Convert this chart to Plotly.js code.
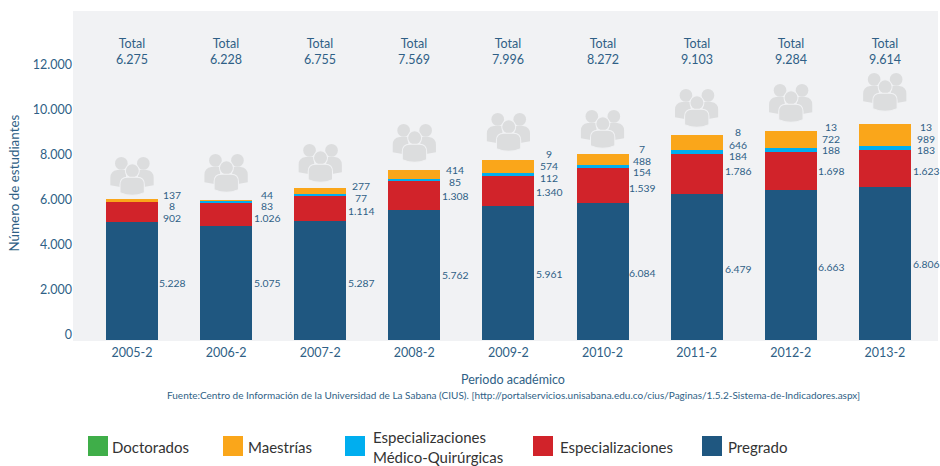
<!DOCTYPE html>
<html><head><meta charset="utf-8">
<script src="https://cdn.plot.ly/plotly-3.0.1.min.js"></script>
<style>html,body{margin:0;padding:0;background:#fff}#c{width:940px;height:466px}</style>
</head><body><div id="c"></div>
<script>
// ---- data ----
const periods = ['2005-2','2006-2','2007-2','2008-2','2009-2','2010-2','2011-2','2012-2','2013-2'];
const pregrado = [5228,5075,5287,5762,5961,6084,6479,6663,6806];
const especializaciones = [902,1026,1114,1308,1340,1539,1786,1698,1623];
const medicoQuirurgicas = [8,83,77,85,112,154,184,188,183];
const maestrias = [137,44,277,414,574,488,646,722,989];
const doctorados = [0,0,0,0,9,7,8,13,13];
const totales = [6275,6228,6755,7569,7996,8272,9103,9284,9614];

// ---- layout constants (pixels on the 940x466 page) ----
const W=940,H=466,L=73,R=2,T=11,B=125;
const TXT='#2f5f86';
const colors={doc:'#3fae49',mae:'#faa61a',mq:'#00aeef',esp:'#d1232a',pre:'#1f5780'};
const py=p=>1-(p-T)/(H-T-B);
const px=p=>(p-L)/(W-L-R);
const fmt=n=>String(n).replace(/\B(?=(\d{3})+$)/g,'.');
const labelX=[172,267,361,455,549,642,738,831,926];
const labelRows=[ // centre y of labels: doctorados, maestrias, m-q, especializaciones, pregrado
 [null,195,206,218,283],[null,195,206,218,283],[null,186,198,211,283],[null,170,182,196,275],
 [154,166,178,192,274],[149,161,172,188,273],[132,144.5,155.5,171,269],[127,139,150,171,267],[127,139,150,171,264]];
const iconBottom=[196,193,183,163,152,149,128,123,112];

const stacks=[doctorados,maestrias,medicoQuirurgicas,especializaciones,pregrado];
const ann=[];
periods.forEach((p,i)=>{
  ann.push({x:i,xref:'x',y:py(51.5),yref:'paper',yanchor:'middle',showarrow:false,align:'center',
    text:'Total<br>'+fmt(totales[i]),font:{family:'Lato',size:12.5,color:TXT}});
  stacks.forEach((s,k)=>{
    const yp=labelRows[i][k]; if(yp===null)return;
    ann.push({x:px(labelX[i]),xref:'paper',y:py(yp),yref:'paper',xanchor:'center',yanchor:'middle',
      showarrow:false,borderpad:0,text:fmt(s[i]),font:{family:'Lato',size:10.4,color:TXT}});
  });
});
ann.push({x:px(13.5),xref:'paper',y:py(183),yref:'paper',xanchor:'center',yanchor:'middle',showarrow:false,textangle:-90,
  text:'Número de estudiantes',font:{family:'Lato',size:13.4,color:TXT}});
ann.push({x:px(513),xref:'paper',y:py(379),yref:'paper',xanchor:'center',yanchor:'middle',showarrow:false,
  text:'Periodo académico',font:{family:'Lato',size:12.5,color:TXT}});
ann.push({x:px(513),xref:'paper',y:py(395),yref:'paper',xanchor:'center',yanchor:'middle',showarrow:false,
  text:'Fuente:Centro de Información de la Universidad de La Sabana (CIUS). [http://portalservicios.unisabana.edu.co/cius/Paginas/1.5.2-Sistema-de-Indicadores.aspx]',
  font:{family:'Lato',size:10,color:TXT}});

// custom legend
const legendItems=[
 {t:'Doctorados',c:colors.doc,sx:88,tx:110},
 {t:'Maestrías',c:colors.mae,sx:223,tx:246},
 {t:'Especializaciones<br>Médico-Quirúrgicas',c:colors.mq,sx:345,tx:370.5},
 {t:'Especializaciones',c:colors.esp,sx:533,tx:558},
 {t:'Pregrado',c:colors.pre,sx:702,tx:726}];
const shapes=legendItems.map(it=>({type:'rect',xref:'paper',yref:'paper',x0:px(it.sx),x1:px(it.sx+20),
  y0:py(456),y1:py(436),fillcolor:it.c,line:{width:0}}));
legendItems.forEach(it=>ann.push({x:px(it.tx),xref:'paper',y:py(447),yref:'paper',xanchor:'left',yanchor:'middle',
  align:'left',showarrow:false,text:it.t,font:{family:'Lato',size:15,color:'#333333'}}));

// people icon
const I='#dcddde',BG='#f1f2f4';
const svg=`<svg xmlns="http://www.w3.org/2000/svg" viewBox="0 0 132 116"><g fill="${I}">
<circle cx="34" cy="19" r="19"/><circle cx="100" cy="19" r="19"/>
<path d="M1 84V62Q1 42 22 39H48V92Z"/><path d="M131 84V62Q131 42 110 39H84V92Z"/>
<circle cx="67" cy="41" r="21" stroke="${BG}" stroke-width="3"/>
<path d="M30 106V82Q30 60 52 60H82Q103 60 103 82V106Q67 122 30 106Z" stroke="${BG}" stroke-width="3"/></g></svg>`;
const href='data:image/svg+xml;base64,'+btoa(svg);
const images=periods.map((p,i)=>({source:href,xref:'paper',yref:'paper',
  x:px(132+94.1*i),y:py(iconBottom[i]),sizex:44/(W-L-R),sizey:39/(H-T-B),sizing:'stretch',
  xanchor:'center',yanchor:'bottom',layer:'above'}));

const bar=(name,y,c)=>({type:'bar',name,x:periods,y,marker:{color:c,line:{width:0}},hoverinfo:'x+y+name'});
const traces=[bar('Pregrado',pregrado,colors.pre),bar('Especializaciones',especializaciones,colors.esp),
 bar('Especializaciones Médico-Quirúrgicas',medicoQuirurgicas,colors.mq),bar('Maestrías',maestrias,colors.mae),
 bar('Doctorados',doctorados,colors.doc)];

Plotly.newPlot('c',traces,{
  width:W,height:H,barmode:'stack',bargap:0.447,showlegend:false,separators:',.',
  margin:{l:L,r:R,t:T,b:B,pad:0},paper_bgcolor:'#ffffff',plot_bgcolor:BG,
  font:{family:'Lato',color:TXT},
  xaxis:{type:'category',range:[-0.627,8.565],showgrid:false,zeroline:false,showline:false,ticks:'',
    tickfont:{family:'Lato',size:12.5,color:TXT},ticklabelstandoff:2},
  yaxis:{range:[-44.4,14622],tickvals:[0,2000,4000,6000,8000,10000,12000],tickformat:',.0f',
    showgrid:false,zeroline:false,showline:false,ticks:'',ticklabelshift:-5,
    tickfont:{family:'Lato',size:12.5,color:TXT}},
  annotations:ann,shapes,images
},{displayModeBar:false,staticPlot:true});
</script></body></html>
